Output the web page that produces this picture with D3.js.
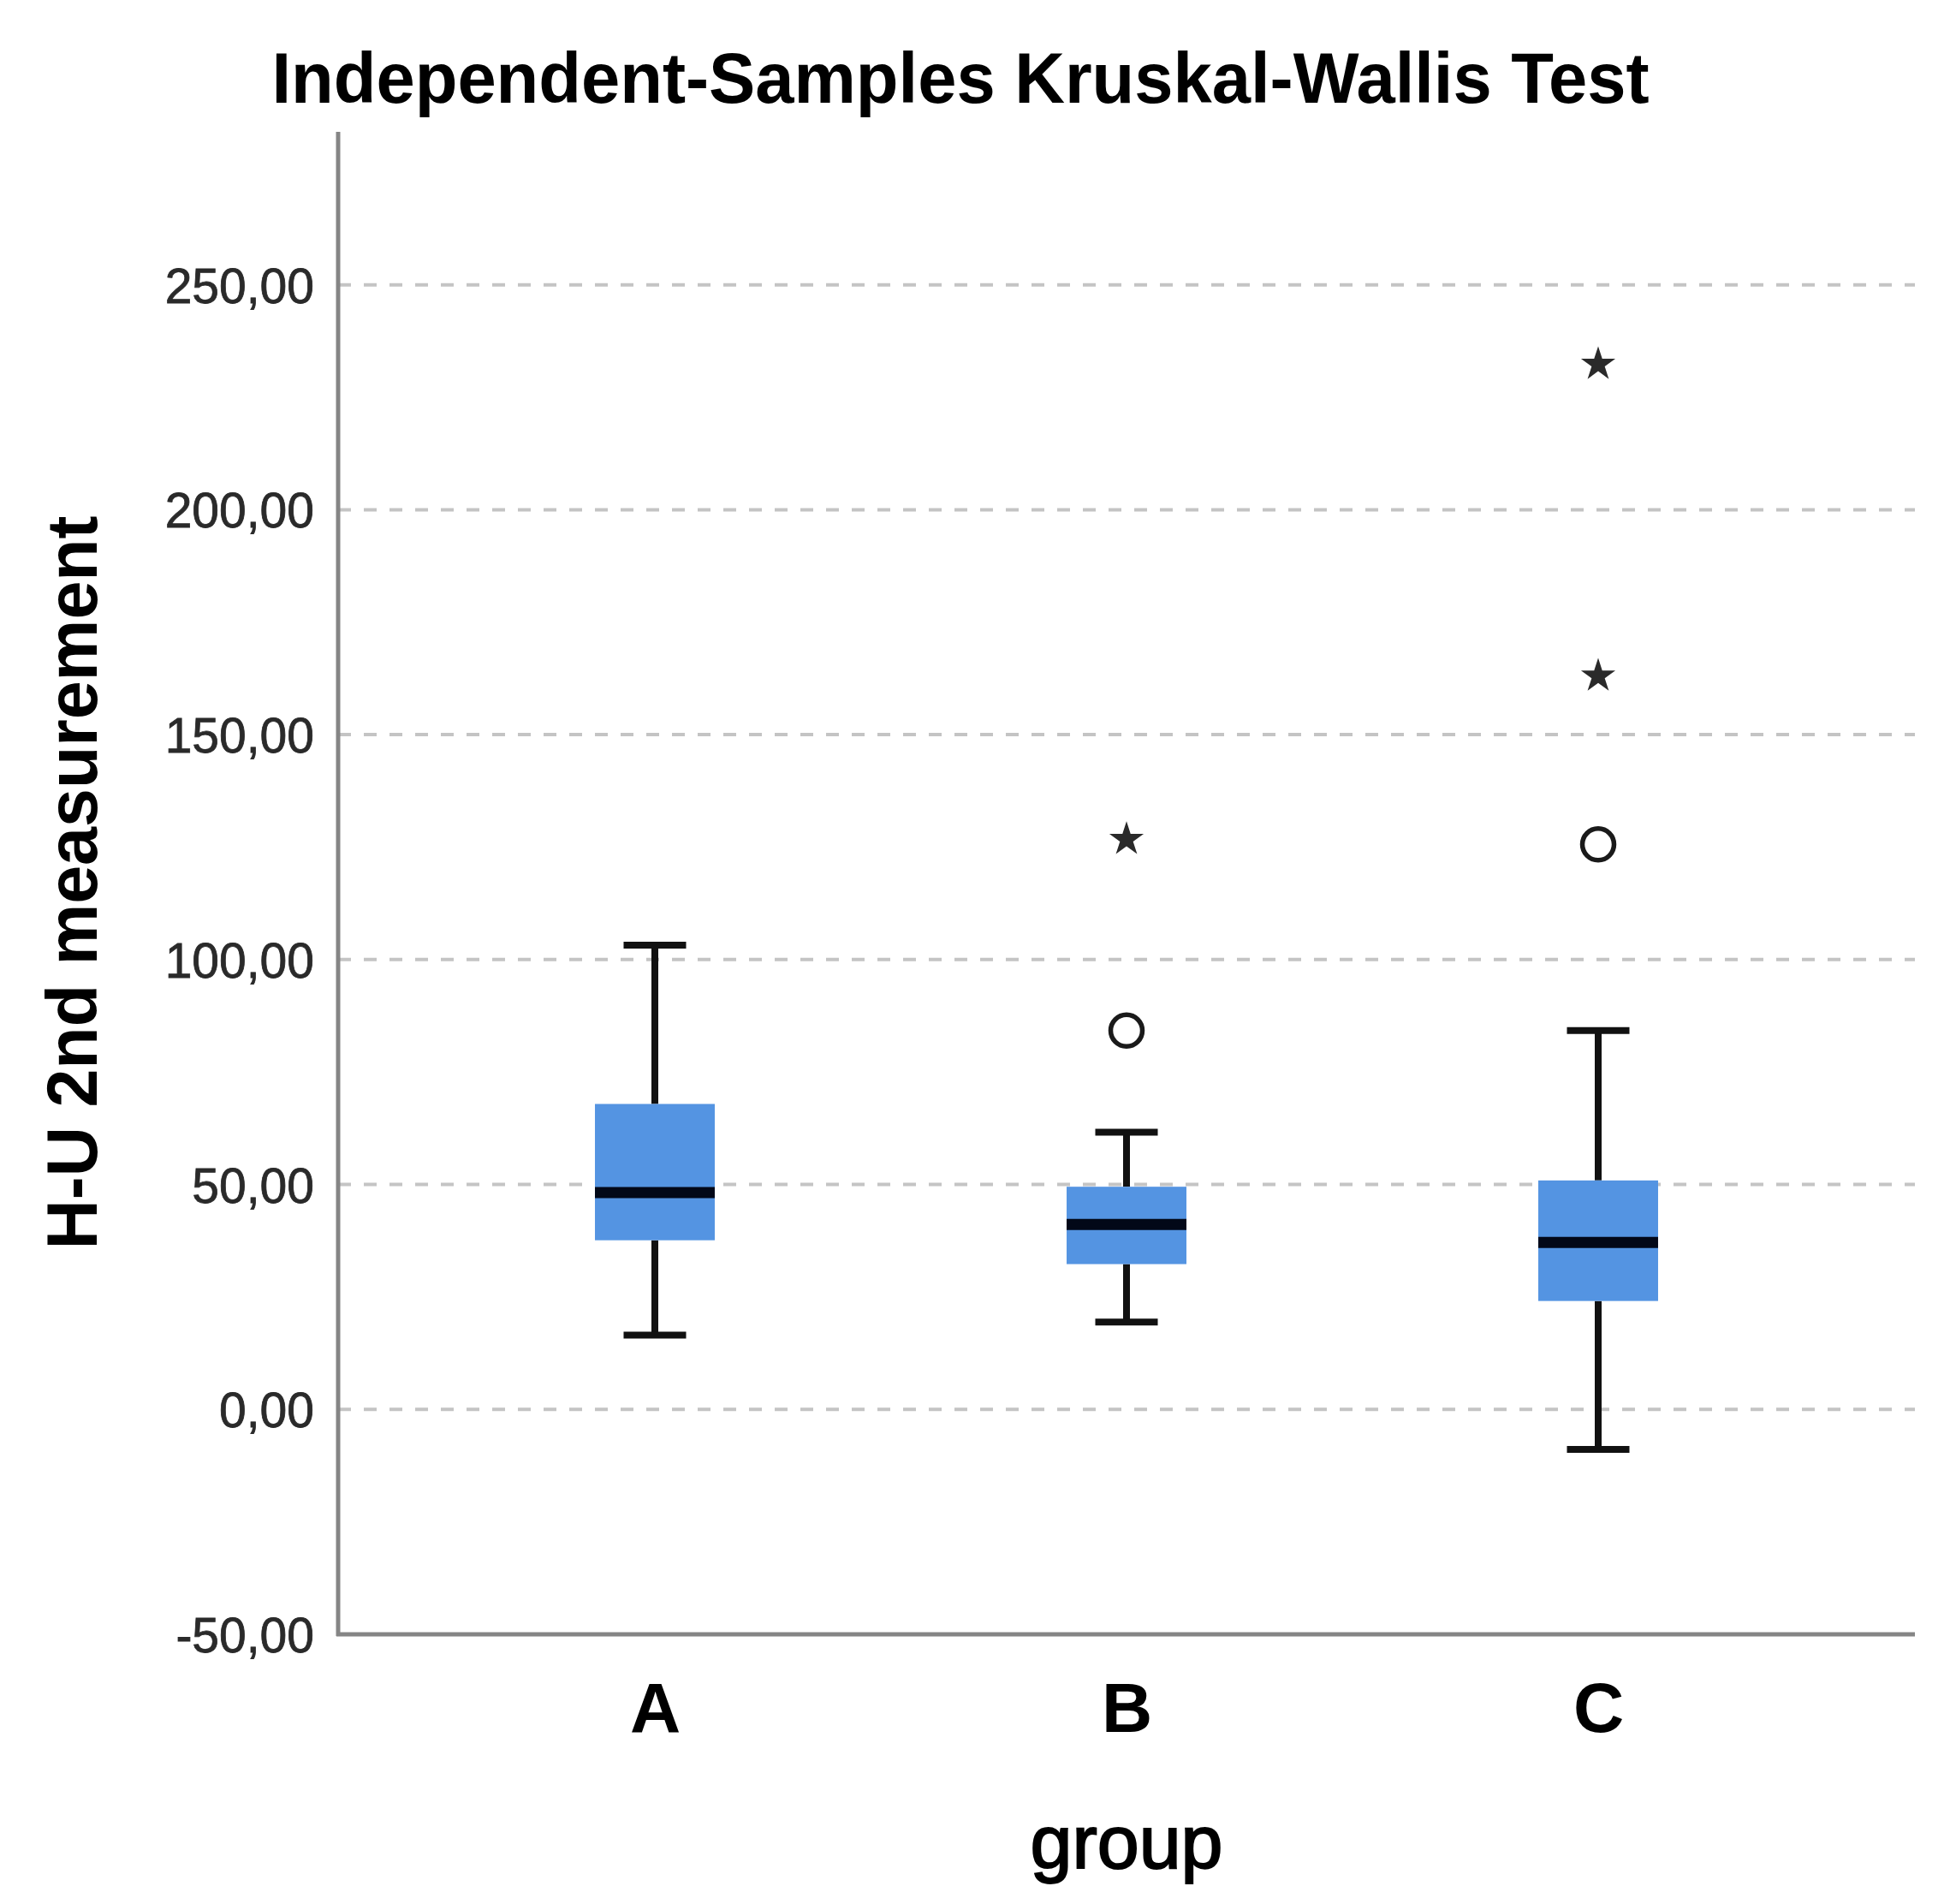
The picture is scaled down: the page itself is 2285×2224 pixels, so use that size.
<!DOCTYPE html>
<html>
<head>
<meta charset="utf-8">
<script src="https://cdn.jsdelivr.net/npm/d3@7"></script>
<style>
  html, body { margin: 0; padding: 0; background: #ffffff; }
  svg { display: block; }
</style>
</head>
<body>
<svg id="chart" width="2285" height="2224"></svg>
<script>
// ---- data ----
const categories = ["A", "B", "C"];
const whiskerLow  = [16.5, 19.4, -8.9];
const q1          = [37.6, 32.3, 24.1];
const medians     = [48.2, 41.1, 37.1];
const q3          = [67.9, 49.5, 50.9];
const whiskerHigh = [103.2, 61.6, 84.2];
// mild outliers (circles) and extreme outliers (stars)
const outlierGroups  = ["B", "C"];
const outlierValues  = [84.2, 125.6];
const extremeGroups  = ["B", "C", "C"];
const extremeValues  = [127.1, 163.4, 232.7];
const yTicks = [-50, 0, 50, 100, 150, 200, 250];
const gridTicks = [0, 50, 100, 150, 200, 250];

const chartTitle = "Independent-Samples Kruskal-Wallis Test";
const yTitle = "H-U 2nd measurement";
const xTitle = "group";

(function () {
// ---- layout ----
const svg = d3.select("#chart");
const pLeft = 395, pRight = 2237, pTop = 154, pBottom = 1909;

const x = d3.scalePoint().domain(categories).range([pLeft, pRight]).padding(0.6715);
const y = d3.scaleLinear().domain([-50, 284]).range([pBottom, pTop]);

const step = x.step();
const boxW = step * 0.254;
const capW = step * 0.1325;
const fmt = v => d3.format(".2f")(v).replace(".", ",").replace("\u2212", "-");

// grid lines
svg.append("g").selectAll("line").data(gridTicks).join("line")
  .attr("x1", pLeft).attr("x2", pRight)
  .attr("y1", d => y(d)).attr("y2", d => y(d))
  .attr("stroke", "#c4c4c4").attr("stroke-width", 4)
  .attr("stroke-dasharray", "15,15");

// y axis with tick labels
const yAxis = d3.axisLeft(y).tickValues(yTicks).tickFormat(fmt).tickSize(0).tickPadding(28);
const gy = svg.append("g").attr("transform", `translate(${pLeft},0)`).call(yAxis);
gy.select(".domain").remove();
gy.selectAll("text")
  .attr("font-family", "Liberation Sans, Arial, sans-serif")
  .attr("font-size", 57).attr("fill", "#2a2a2a")
  .attr("stroke", "#2a2a2a").attr("stroke-width", 0.8)
  .attr("dy", "0.36em");

// x axis with category labels
const xAxis = d3.axisBottom(x).tickSize(0).tickPadding(56);
const gx = svg.append("g").attr("transform", `translate(0,${pBottom})`).call(xAxis);
gx.select(".domain").remove();
gx.selectAll("text")
  .attr("font-family", "Liberation Sans, Arial, sans-serif")
  .attr("font-size", 82).attr("font-weight", "bold").attr("fill", "#000")
  .attr("dy", "0.71em");

// axis lines
svg.append("line").attr("x1", pLeft).attr("x2", pLeft).attr("y1", pTop).attr("y2", pBottom + 2)
  .attr("stroke", "#858585").attr("stroke-width", 5);
svg.append("line").attr("x1", pLeft - 2).attr("x2", pRight).attr("y1", pBottom).attr("y2", pBottom)
  .attr("stroke", "#858585").attr("stroke-width", 5);

// boxes
const boxes = categories.map((c, i) => ({
  c, lo: whiskerLow[i], q1: q1[i], med: medians[i], q3: q3[i], hi: whiskerHigh[i]
}));
const bg = svg.append("g").selectAll("g").data(boxes).join("g");

// whisker stems
bg.append("line")
  .attr("x1", d => x(d.c)).attr("x2", d => x(d.c))
  .attr("y1", d => y(d.hi)).attr("y2", d => y(d.q3))
  .attr("stroke", "#111").attr("stroke-width", 8);
bg.append("line")
  .attr("x1", d => x(d.c)).attr("x2", d => x(d.c))
  .attr("y1", d => y(d.q1)).attr("y2", d => y(d.lo))
  .attr("stroke", "#111").attr("stroke-width", 8);
// caps
bg.append("line")
  .attr("x1", d => x(d.c) - capW / 2).attr("x2", d => x(d.c) + capW / 2)
  .attr("y1", d => y(d.hi)).attr("y2", d => y(d.hi))
  .attr("stroke", "#111").attr("stroke-width", 8);
bg.append("line")
  .attr("x1", d => x(d.c) - capW / 2).attr("x2", d => x(d.c) + capW / 2)
  .attr("y1", d => y(d.lo)).attr("y2", d => y(d.lo))
  .attr("stroke", "#111").attr("stroke-width", 8);
// box
bg.append("rect")
  .attr("x", d => x(d.c) - boxW / 2).attr("width", boxW)
  .attr("y", d => y(d.q3)).attr("height", d => y(d.q1) - y(d.q3))
  .attr("fill", "#5494e2");
// median
bg.append("line")
  .attr("x1", d => x(d.c) - boxW / 2).attr("x2", d => x(d.c) + boxW / 2)
  .attr("y1", d => y(d.med)).attr("y2", d => y(d.med))
  .attr("stroke", "#020818").attr("stroke-width", 13);

// outliers (circles)
svg.append("g").selectAll("circle").data(outlierValues).join("circle")
  .attr("cx", (d, i) => x(outlierGroups[i])).attr("cy", d => y(d))
  .attr("r", 18.5).attr("fill", "none").attr("stroke", "#1a1a1a").attr("stroke-width", 5.5);

// extremes (stars)
const star = d3.symbol().type(d3.symbolStar).size(500);
svg.append("g").selectAll("path").data(extremeValues).join("path")
  .attr("d", star)
  .attr("transform", (d, i) => `translate(${x(extremeGroups[i])},${y(d) + 2})`)
  .attr("fill", "#2a2a2a");

// titles
svg.append("text").attr("x", 1122).attr("y", 120)
  .attr("text-anchor", "middle")
  .attr("font-family", "Liberation Sans, Arial, sans-serif")
  .attr("font-size", 84).attr("font-weight", "bold").attr("fill", "#000")
  .attr("textLength", 1609).attr("lengthAdjust", "spacingAndGlyphs")
  .text(chartTitle);

svg.append("text")
  .attr("transform", `translate(113,1031) rotate(-90)`)
  .attr("text-anchor", "middle")
  .attr("font-family", "Liberation Sans, Arial, sans-serif")
  .attr("font-size", 84).attr("font-weight", "bold").attr("fill", "#000")
  .attr("textLength", 857).attr("lengthAdjust", "spacingAndGlyphs")
  .text(yTitle);

svg.append("text").attr("x", 1316).attr("y", 2182)
  .attr("text-anchor", "middle")
  .attr("font-family", "Liberation Sans, Arial, sans-serif")
  .attr("font-size", 88).attr("fill", "#000")
  .attr("stroke", "#000").attr("stroke-width", 2)
  .text(xTitle);
})();
</script>
</body>
</html>
